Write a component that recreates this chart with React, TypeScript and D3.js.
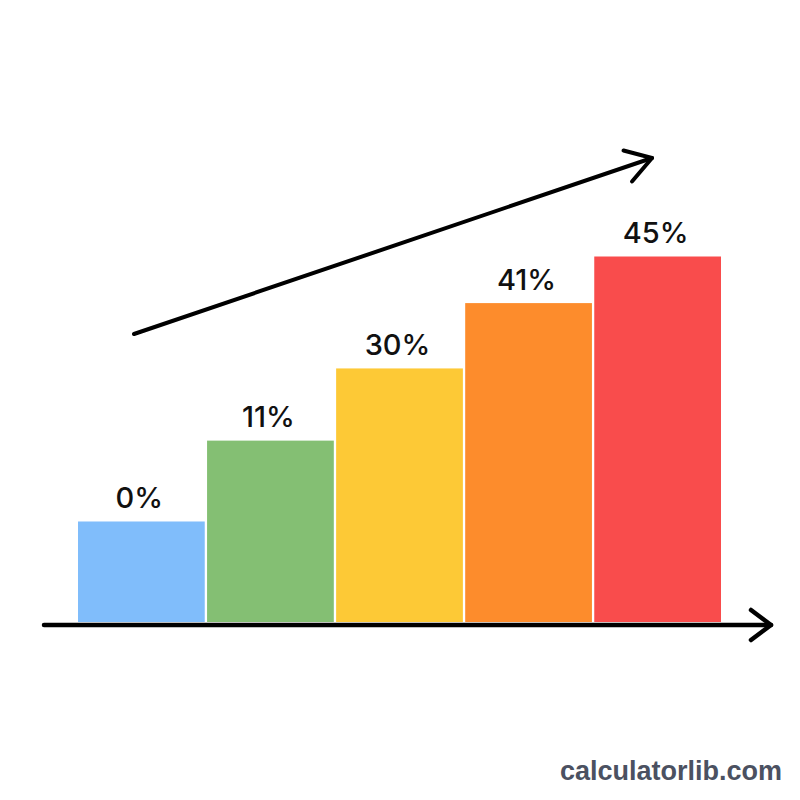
import React from 'react'
import * as d3 from 'd3'

// stages along the baseline (unlabelled in the picture)
const stages = ['s1', 's2', 's3', 's4', 's5']
// percentages printed above each bar
const values = [0, 11, 30, 41, 45]
// visual height of each bar, in arbitrary level units
const barLevels = [2.2, 3.97, 5.55, 6.98, 8.0]
const colors = ['#80bdfb', '#84bf73', '#fdc936', '#fd8c2c', '#f94c4c']

const W = 800
const H = 800
const baseY = 622

export default function App() {
  const x = d3.scaleBand<string>().domain(stages).range([78, 721]).paddingInner(0.018).paddingOuter(0)
  const y = d3.scaleLinear().domain([0, 8]).range([baseY, 256.5])

  // decorative trend arrow
  const trend = { x1: 134, y1: 334, x2: 652, y2: 158 }
  const trendHead = d3.line()([[623.5, 150.5], [652, 158], [632, 181.5]])

  // baseline axis arrow
  const axis = { x1: 44, x2: 771, y: 625 }
  const axisHead = d3.line()([[751, 610], [771, 625], [751, 640]])

  return (
    <svg width={W} height={H} style={{ position: 'absolute', left: 0, top: 0, background: '#fff' }}>
      <rect width={W} height={H} fill="#fff" />
      {stages.map((s, i) => (
        <g key={s}>
          <rect
            x={x(s)}
            y={y(barLevels[i])}
            width={x.bandwidth()}
            height={baseY - y(barLevels[i])}
            fill={colors[i]}
          />
          <text
            x={(x(s) ?? 0) + x.bandwidth() / 2 - 2}
            y={y(barLevels[i]) - 13.5}
            textAnchor="middle"
            fontFamily="Inter, Roboto, sans-serif"
            fontWeight={450}
            fontSize={29}
            fill="#111"
          >
            {values[i]}%
          </text>
        </g>
      ))}

      <line x1={axis.x1} y1={axis.y} x2={axis.x2} y2={axis.y} stroke="#000" strokeWidth={4.5} strokeLinecap="round" />
      <path d={axisHead ?? ''} fill="none" stroke="#000" strokeWidth={4.5} strokeLinecap="round" strokeLinejoin="round" />

      <line x1={trend.x1} y1={trend.y1} x2={trend.x2} y2={trend.y2} stroke="#000" strokeWidth={4} strokeLinecap="round" />
      <path d={trendHead ?? ''} fill="none" stroke="#000" strokeWidth={4} strokeLinecap="round" strokeLinejoin="round" />

      <text
        x={782}
        y={780}
        textAnchor="end"
        fontFamily="'Liberation Sans', Arial, sans-serif"
        fontWeight="bold"
        fontSize={27}
        fill="#4b5161"
      >
        calculatorlib.com
      </text>
    </svg>
  )
}
